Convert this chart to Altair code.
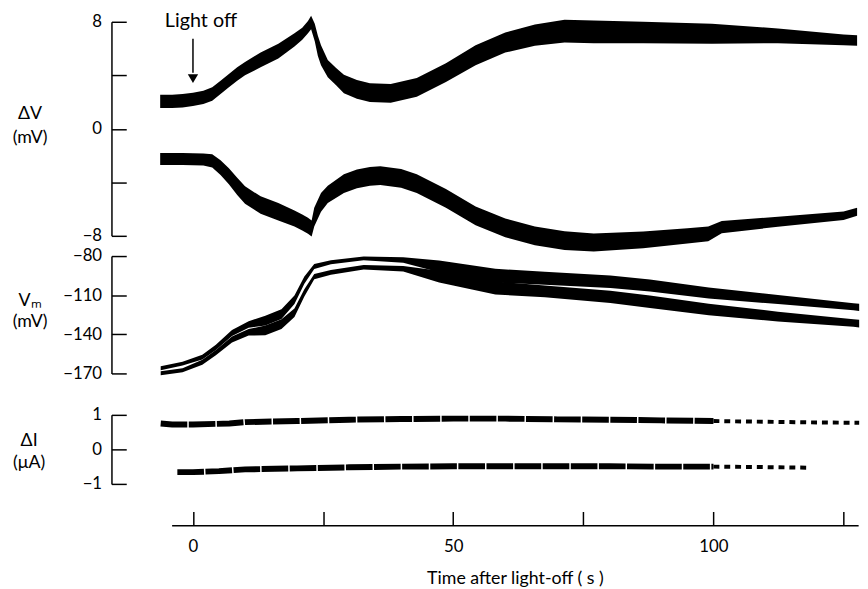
import altair as alt
import pandas as pd

# ---------------- data ----------------
# Delta V, upper trace
dv_up_t = [-6.3, -4, -2, 0, 2, 3.7, 5.3, 6.9, 8.5, 10, 13, 16.4, 19.5, 21, 22.1, 22.7, 23.4, 24, 24.6, 25.9,
           27.5, 29, 31.5, 34, 38, 43, 48.6, 54.3, 60, 65.7, 71.4, 77, 86.5, 99.7, 112.4, 125, 127.6]
dv_up_mid = [2.05, 2.05, 2.1, 2.2, 2.35, 2.6, 3.1, 3.6, 4.1, 4.5, 5.15, 5.8, 6.65, 7.1, 7.6, 7.95, 7.2, 6.2, 5.5, 4.5,
             3.9, 3.35, 2.95, 2.7, 2.65, 3.1, 4.2, 5.5, 6.45, 7.0, 7.3, 7.25, 7.2, 7.1, 6.95, 6.65, 6.6]
dv_up_w = [1.0, 1.0, 1.0, 1.0, 1.0, 1.0, 1.0, 1.0, 1.0, 1.0, 1.1, 1.1, 1.0, 0.9, 0.9, 1.0, 1.3, 1.5, 1.5, 1.3,
           1.3, 1.4, 1.4, 1.4, 1.4, 1.4, 1.4, 1.5, 1.5, 1.6, 1.7, 1.7, 1.6, 1.5, 1.1, 0.8, 0.8]
# Delta V, lower trace
dv_lo_t = [-6.3, -2, 0, 2, 3.7, 5.3, 6.9, 8.5, 10, 13, 16.4, 19.5, 21, 22.1, 22.8, 23.3, 24.6, 25.9, 29, 31.5,
           34, 36, 40, 43, 48.6, 54.3, 60, 65.7, 71.4, 77, 86.5, 95, 99, 101.6, 112.4, 125, 127.6]
dv_lo_mid = [-2.25, -2.25, -2.28, -2.3, -2.4, -2.9, -3.55, -4.3, -4.95, -5.7, -6.2, -6.7, -7.0, -7.25, -7.45, -6.6,
             -5.5, -4.9, -4.1, -3.75, -3.55, -3.5, -3.7, -4.1, -5.2, -6.5, -7.4, -8.0, -8.35, -8.5, -8.3, -8.0,
             -7.85, -7.35, -6.95, -6.5, -6.2]
dv_lo_w = [0.9, 0.9, 0.9, 0.9, 1.0, 1.1, 1.2, 1.3, 1.3, 1.3, 1.3, 1.2, 1.2, 1.2, 1.2, 1.4, 1.4, 1.3, 1.4, 1.4,
           1.4, 1.4, 1.4, 1.4, 1.4, 1.4, 1.4, 1.4, 1.4, 1.35, 1.25, 1.15, 1.1, 0.9, 0.75, 0.65, 0.6]

# Vm, two strands
vm_t = [-6.2, -2, 1.8, 4.4, 7.5, 10.7, 13.9, 17, 19.5, 21.4, 23.3, 26.5, 32.8, 40.4, 47.3, 58.1, 67.6, 80.2,
        87.8, 99.1, 112.4, 126.9, 128]
vm1_mid = [-166, -162.5, -157.5, -150, -139, -132.5, -129.5, -124.6, -113.5, -98.5, -88, -84.8, -81.8, -83,
           -88, -95, -97, -99.7, -102.5, -108.3, -113.3, -118.9, -119.3]
vm1_w = [3, 3, 3.8, 4, 4.5, 5, 7.5, 7.5, 6.5, 5.5, 4, 3, 3, 4.2, 9, 10.5, 10, 9.5, 9.2, 8.5, 7, 5.5, 5.5]
vm2_mid = [-169.8, -167.5, -161.5, -154, -144, -138.5, -137, -132.2, -123.4, -108.3, -95.7, -92.5, -88.6, -89.8,
           -95.7, -104.5, -107, -111.3, -115, -120.9, -126.4, -131.4, -131.8]
vm2_w = [3, 3, 3.8, 4, 4.5, 5, 7.5, 7.5, 6.5, 5.5, 4, 3.5, 3.5, 4.2, 9, 10, 9, 9.5, 9.5, 8.8, 7.5, 5.8, 5.8]

# Delta I
di_up_t = [-6.2, -4, 0, 7, 10, 20, 30, 40, 50, 60, 70, 80, 90, 100]
di_up = [0.75, 0.72, 0.72, 0.75, 0.79, 0.82, 0.86, 0.88, 0.89, 0.89, 0.87, 0.86, 0.84, 0.82]
di_up_tail_t = [100, 110, 120, 128]
di_up_tail = [0.82, 0.80, 0.78, 0.77]
di_lo_t = [-3, 0, 5, 10, 20, 30, 40, 50, 60, 70, 80, 90, 100]
di_lo = [-0.66, -0.66, -0.63, -0.58, -0.55, -0.52, -0.5, -0.49, -0.49, -0.49, -0.49, -0.5, -0.5]
di_lo_tail_t = [100, 108, 118]
di_lo_tail = [-0.5, -0.51, -0.53]

# annotation
arrow_t = [0]
arrow_top = [6.74]
arrow_bottom = [4.2]
arrow_head = [3.75]
label_t = [-5.4]
label_y = [7.63]
label_text = ["Light off"]

# axis values
dv_ticks = [8, 4, 0, -4, -8]
dv_labels = [8, 0, -8]
vm_ticks = [-80, -110, -140, -170]
di_ticks = [1, 0, -1]
x_ticks = [0, 25, 50, 75, 100, 125]

# ---------------- tables ----------------
def band(t, mid, w, name):
    d = pd.DataFrame({"t": t, "mid": mid, "w": w})
    d["lo"] = d["mid"] - d["w"] / 2
    d["hi"] = d["mid"] + d["w"] / 2
    d["trace"] = name
    return d

dv_df = pd.concat([band(dv_up_t, dv_up_mid, dv_up_w, "up"), band(dv_lo_t, dv_lo_mid, dv_lo_w, "lo")])
vm_df = pd.concat([band(vm_t, vm1_mid, vm1_w, "v1"), band(vm_t, vm2_mid, vm2_w, "v2")])
di_df = pd.concat([pd.DataFrame({"t": di_up_t, "v": di_up, "trace": "up"}),
                   pd.DataFrame({"t": di_lo_t, "v": di_lo, "trace": "lo"})])
di_tail = pd.concat([pd.DataFrame({"t": di_up_tail_t, "v": di_up_tail, "trace": "up"}),
                     pd.DataFrame({"t": di_lo_tail_t, "v": di_lo_tail, "trace": "lo"})])
arrow_df = pd.DataFrame({"t": arrow_t, "y1": arrow_top, "y2": arrow_bottom, "yh": arrow_head})
label_df = pd.DataFrame({"t": label_t, "y": label_y, "txt": label_text})

# ---------------- style ----------------
FONT = "Lato"
W = 696
H_DV, H_VM, H_DI = 217, 119, 70
YOFF = 61

x_scale = alt.Scale(domain=[-4.1, 127.8], nice=False, zero=False)


def yaxis_left(vals, title, tx, ty, lh):
    return alt.Axis(orient="left", offset=YOFF, values=vals, tickSize=0, labelPadding=10,
                    labelExpr="datum.value == 0 ? '0' : format(datum.value, 'd')",
                    labelOverlap=False, labelFlush=False, domainColor="black", domainWidth=1.5,
                    labelFont=FONT, labelFontSize=17, labelColor="black", grid=False, title=title,
                    titleAngle=0, titleAlign="center", titleBaseline="top", titleX=tx, titleY=ty,
                    titleLineHeight=lh, titleFont=FONT, titleFontSize=18, titleFontWeight="normal",
                    titleColor="black")


def yaxis_right(vals):
    return alt.Axis(orient="right", offset=-(W + YOFF), values=vals, labels=False, domain=False,
                    tickSize=15, tickWidth=1.5, tickColor="black", grid=False, title=None)


# ---------------- Delta V panel ----------------
dv_scale = alt.Scale(domain=[-8, 8], nice=False, zero=False)
dv_area = alt.Chart(dv_df).mark_area(color="black").encode(
    x=alt.X("t:Q", scale=x_scale, axis=None),
    y=alt.Y("lo:Q", scale=dv_scale, axis=yaxis_left(dv_labels, ["ΔV", "(mV)"], -83, 84, 24)),
    y2="hi:Q",
    detail="trace:N",
)
dv_arrow = alt.Chart(arrow_df).mark_rule(color="black", strokeWidth=1.5).encode(
    x=alt.X("t:Q", scale=x_scale, axis=None),
    y=alt.Y("y1:Q", scale=dv_scale, axis=yaxis_right(dv_ticks)),
    y2="y2:Q",
)
dv_head = alt.Chart(arrow_df).mark_point(shape="triangle-down", filled=True, size=110,
                                          color="black", opacity=1).encode(
    x=alt.X("t:Q", scale=x_scale, axis=None),
    y=alt.Y("yh:Q", scale=dv_scale, axis=None),
)
dv_label = alt.Chart(label_df).mark_text(align="left", baseline="alphabetic", font=FONT,
                                          fontSize=20, color="black").encode(
    x=alt.X("t:Q", scale=x_scale, axis=None),
    y=alt.Y("y:Q", scale=dv_scale, axis=None),
    text="txt:N",
)
dv_panel = alt.layer(dv_area, dv_arrow, dv_head, dv_label).resolve_axis(y="independent").properties(
    width=W, height=H_DV)

# ---------------- Vm panel ----------------
vm_scale = alt.Scale(domain=[-170, -80], nice=False, zero=False)
vm_area = alt.Chart(vm_df).mark_area(color="black").encode(
    x=alt.X("t:Q", scale=x_scale, axis=None),
    y=alt.Y("lo:Q", scale=vm_scale, axis=yaxis_left(vm_ticks, ["Vₘ", "(mV)"], -83, 36, 21)),
    y2="hi:Q",
    detail="trace:N",
)
vm_ticklayer = alt.Chart(vm_df).mark_area(color="black", opacity=0).encode(
    x=alt.X("t:Q", scale=x_scale, axis=None),
    y=alt.Y("lo:Q", scale=vm_scale, axis=yaxis_right(vm_ticks)),
    y2="hi:Q",
    detail="trace:N",
)
vm_panel = alt.layer(vm_area, vm_ticklayer).resolve_axis(y="independent").properties(width=W, height=H_VM)

# ---------------- Delta I panel ----------------
di_scale = alt.Scale(domain=[-1, 1], nice=False, zero=False)
di_lines = alt.Chart(di_df).mark_line(color="black", strokeWidth=6, strokeDash=[27, 1.5], strokeCap="butt").encode(
    x=alt.X("t:Q", scale=x_scale,
            axis=alt.Axis(orient="bottom", offset=42, values=x_ticks,
                          labelExpr="datum.value % 50 == 0 ? datum.label : ''",
                          tickSize=0, labelPadding=14, domainColor="black", domainWidth=1.5,
                          labelFont=FONT, labelFontSize=17, labelColor="black", grid=False,
                          title="Time after light-off ( s )", titleFont=FONT, titleFontSize=18,
                          titleFontWeight="normal", titleColor="black", titlePadding=15)),
    y=alt.Y("v:Q", scale=di_scale, axis=yaxis_left(di_ticks, ["ΔI", "(μA)"], -84, 17, 22)),
    detail="trace:N",
)
di_tail_lines = alt.Chart(di_tail).mark_line(color="black", strokeWidth=4, strokeDash=[6, 5]).encode(
    x=alt.X("t:Q", scale=x_scale,
            axis=alt.Axis(orient="top", offset=-(H_DI + 42), values=x_ticks, labels=False, domain=False,
                          tickSize=14, tickWidth=1.5, tickColor="black", grid=False, title=None)),
    y=alt.Y("v:Q", scale=di_scale, axis=yaxis_right(di_ticks)),
    detail="trace:N",
)
di_panel = alt.layer(di_lines, di_tail_lines).resolve_axis(x="independent", y="independent").properties(
    width=W, height=H_DI)

spacer = alt.Chart(pd.DataFrame({"a": [0]})).mark_point(opacity=0).encode(
    x=alt.value(0), y=alt.value(0)).properties(width=W, height=1)

chart = alt.vconcat(dv_panel, vm_panel, spacer, di_panel, spacing=20.5, bounds="flush").properties(
    padding={"left": 12, "top": 7, "right": 0, "bottom": 0}, background="white"
).configure_view(stroke=None)

chart.save("out.html", embed_options={"renderer": "svg", "actions": False})
